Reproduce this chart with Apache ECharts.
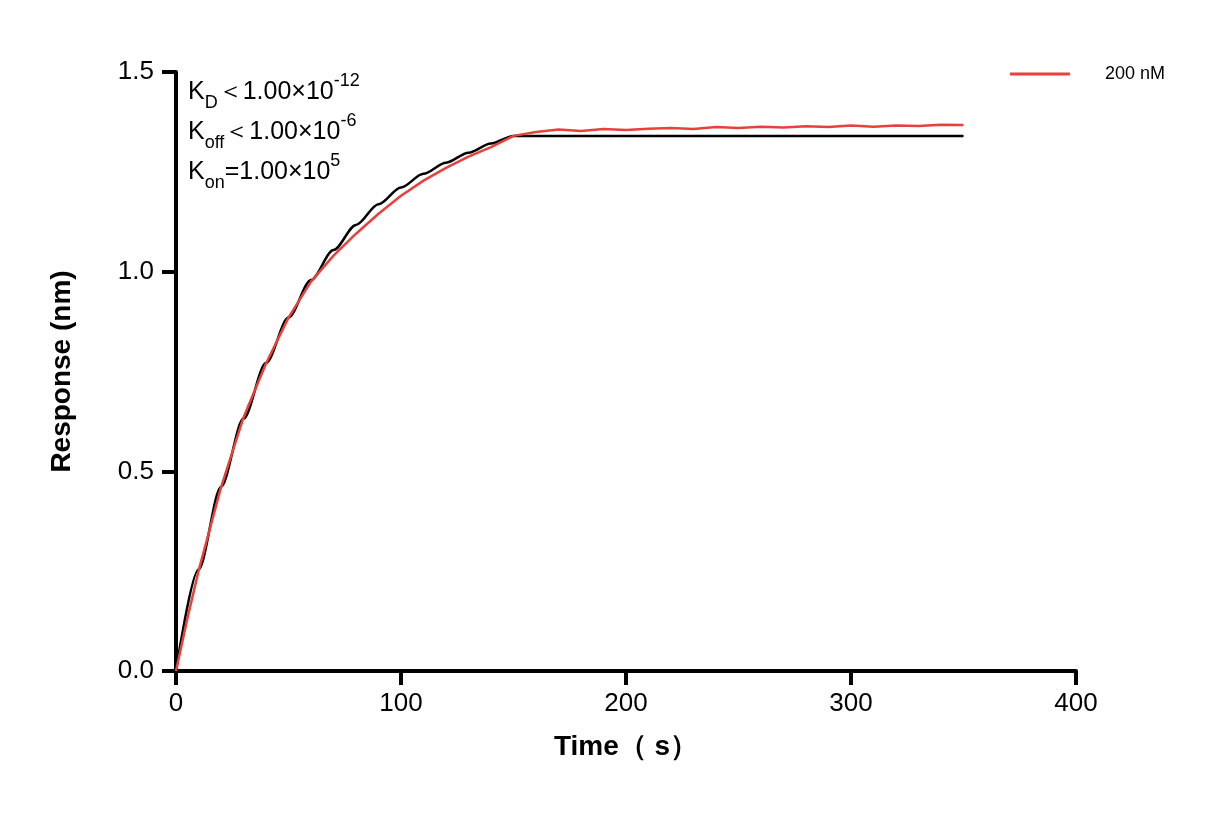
<!DOCTYPE html>
<html><head><meta charset="utf-8">
<script src="https://cdn.jsdelivr.net/npm/echarts@6/dist/echarts.min.js"></script>
<style>html,body{margin:0;background:#fff}#graph{width:1212px;height:825px}</style>
</head><body><div id="graph"></div>
<script>
const fitTimes = [0,10,20,30,40,50,60,70,80,90,100,110,120,130,140,150,350];
const fitValues = [0,0.254,0.461,0.632,0.771,0.885,0.979,1.054,1.117,1.169,1.211,1.245,1.273,1.298,1.321,1.34,1.34];
const dataTimes = [0,5,10,20,30,40,50,60,70,80,90,100,110,120,130,140,150,160,170,180,190,200,210,220,230,240,250,260,270,280,290,300,310,320,330,340,350];
const dataValues = [0,0.13,0.25,0.46,0.635,0.77,0.885,0.975,1.04,1.095,1.145,1.19,1.228,1.26,1.288,1.312,1.34,1.35,1.356,1.352,1.357,1.355,1.358,1.36,1.357,1.362,1.36,1.363,1.361,1.364,1.362,1.366,1.363,1.366,1.365,1.368,1.367];
const seriesName = '200 nM';

const chart = echarts.init(document.getElementById('graph'));
const axisFont = {fontFamily: 'Arial, Liberation Sans', fontSize: 26, color: '#000'};
chart.setOption({
  animation: false,
  legend: {
    data: [seriesName], right: 42, top: 60, itemWidth: 60, itemHeight: 3, itemGap: 10,
    icon: 'rect',
    textStyle: {fontFamily: 'Arial, Liberation Sans', fontSize: 18, color: '#000', padding: [0,0,0,30]}
  },
  grid: {left: 176, top: 72, width: 900, height: 599},
  xAxis: {
    type: 'value', min: 0, max: 400, interval: 100,
    name: 'Time（ s）', nameLocation: 'middle', nameGap: 62,
    nameTextStyle: {fontFamily: 'Arial, Liberation Sans', fontSize: 28, fontWeight: 'bold', color: '#000'},
    axisLine: {lineStyle: {color: '#000', width: 4}},
    axisTick: {length: 14, lineStyle: {color: '#000', width: 4}},
    axisLabel: Object.assign({margin: 20}, axisFont),
    splitLine: {show: false}
  },
  yAxis: {
    type: 'value', min: 0, max: 1.5, interval: 0.5,
    name: 'Response (nm)', nameLocation: 'middle', nameGap: 100,
    nameTextStyle: {fontFamily: 'Arial, Liberation Sans', fontSize: 28, fontWeight: 'bold', color: '#000'},
    axisLine: {show: true, lineStyle: {color: '#000', width: 4}},
    axisTick: {show: true, length: 14, lineStyle: {color: '#000', width: 4}},
    axisLabel: Object.assign({margin: 22, formatter: v => v.toFixed(1)}, axisFont),
    splitLine: {show: false}
  },
  series: [
    {name: 'fit', type: 'line', data: fitTimes.map((t, i) => [t, fitValues[i]]),
     smooth: 0.3, smoothMonotone: 'x', showSymbol: false, lineStyle: {color: '#000', width: 2.5}, z: 2},
    {name: seriesName, type: 'line', data: dataTimes.map((t, i) => [t, dataValues[i]]),
     showSymbol: false, itemStyle: {color: '#e8413c'}, lineStyle: {color: '#e8413c', width: 2.5}, z: 3}
  ],
  graphic: [{
    type: 'text', left: 188, top: 72,
    style: {
      text: '{n|K}{s|D}{n|＜1.00×10}{p|-12}\n{n|K}{s|off}{n|＜1.00×10}{p|-6}\n{n|K}{s|on}{n|=1.00×10}{p|5}',
      rich: {
        n: {fontFamily: 'Arial, Liberation Sans', fontSize: 25, color: '#000', lineHeight: 40},
        s: {fontFamily: 'Arial, Liberation Sans', fontSize: 18, color: '#000', verticalAlign: 'bottom', padding: [10,0,0,0], lineHeight: 40},
        p: {fontFamily: 'Arial, Liberation Sans', fontSize: 18, color: '#000', verticalAlign: 'top', padding: [0,0,12,0], lineHeight: 40}
      }
    }
  }]
});
</script></body></html>
